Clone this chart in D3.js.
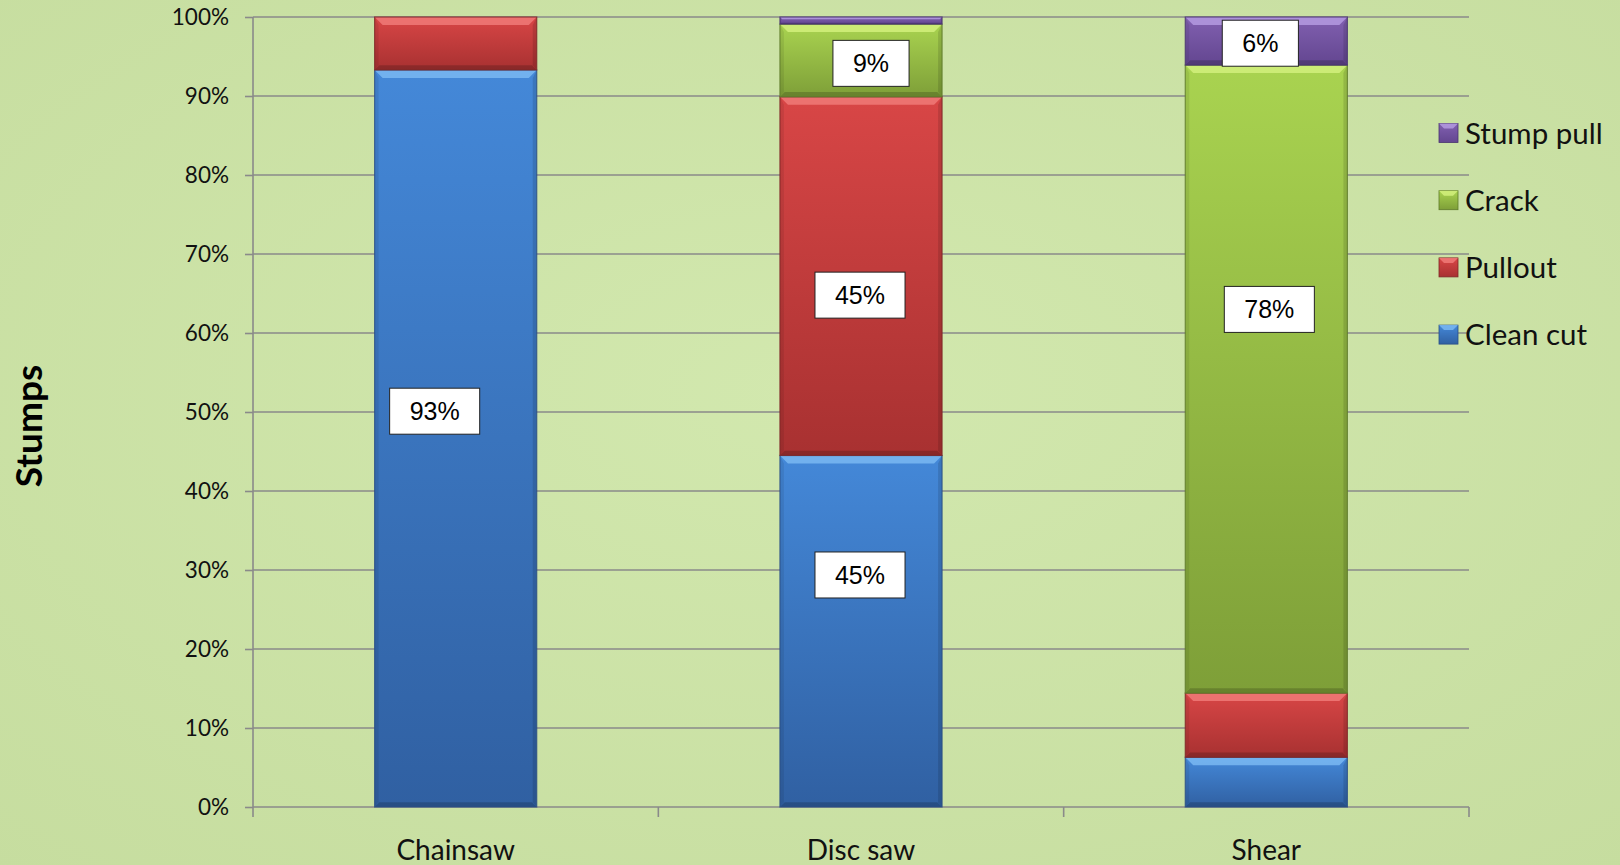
<!DOCTYPE html>
<html>
<head>
<meta charset="utf-8">
<script src="https://cdn.jsdelivr.net/npm/d3@7"></script>
<style>
  html, body { margin: 0; padding: 0; background: #cde3a6; }
  svg { display: block; }
</style>
</head>
<body>
<svg id="chart" width="1620" height="865"></svg>
<script>
// Stump damage by felling head type (share of stumps)
const categories = ["Chainsaw", "Disc saw", "Shear"];
const seriesNames = ["Clean cut", "Pullout", "Crack", "Stump pull"];
const cleanCut  = [93.3, 44.5, 6.2];
const pullout   = [6.7, 45.4, 8.0];
const crack     = [0, 9.2, 78.3];
const stumpPull = [0, 0.9, 6];
const yTickValues = [0, 0.1, 0.2, 0.3, 0.4, 0.5, 0.6, 0.7, 0.8, 0.9, 1.0];
const yTitle = "Stumps";

// Segments that carry a value box
const labelledSegments = [
  ["Chainsaw", "Clean cut"],
  ["Disc saw", "Clean cut"],
  ["Disc saw", "Pullout"],
  ["Disc saw", "Crack"],
  ["Shear", "Crack"],
  ["Shear", "Stump pull"]
];

// Placement of each value box inside its segment (fraction of height, x shift)
const labelPlacement = {
  "Chainsaw|Clean cut": { f: 0.537, dx: -21 },
  "Disc saw|Clean cut": { f: 0.66, dx: -1 },
  "Disc saw|Pullout":   { f: 0.447, dx: -1 },
  "Disc saw|Crack":     { f: 0.46, dx: 10 },
  "Shear|Crack":        { f: 0.611, dx: 3 },
  "Shear|Stump pull":   { f: 0.455, dx: -6 }
};

const seriesColors = {
  "Clean cut":  { top: "#4488d8", bottom: "#3060a2", hi: "#7ab8f2", edge: "#2a4f85" },
  "Pullout":    { top: "#d84646", bottom: "#a83131", hi: "#f07a78", edge: "#7e2727" },
  "Crack":      { top: "#a9d350", bottom: "#7e9f38", hi: "#d2f07c", edge: "#5e7a2a" },
  "Stump pull": { top: "#8160b0", bottom: "#634690", hi: "#b49ae0", edge: "#4a3470" }
};

const rows = categories.map((c, i) => ({
  category: c,
  "Clean cut": cleanCut[i],
  "Pullout": pullout[i],
  "Crack": crack[i],
  "Stump pull": stumpPull[i]
}));

const svg = d3.select("#chart");
const W = 1620, H = 865;
const margin = { left: 253, right: 151, top: 17, bottom: 58 };
const plotW = W - margin.left - margin.right;
const plotH = H - margin.top - margin.bottom;

// Background
const defs = svg.append("defs");
const bg = defs.append("radialGradient").attr("id", "bgGrad")
  .attr("cx", "50%").attr("cy", "45%").attr("r", "75%");
bg.append("stop").attr("offset", "0%").attr("stop-color", "#d2e8ae");
bg.append("stop").attr("offset", "100%").attr("stop-color", "#c6dd9f");
svg.append("rect").attr("width", W).attr("height", H).attr("fill", "url(#bgGrad)");

seriesNames.forEach((s, i) => {
  const g = defs.append("linearGradient").attr("id", "grad" + i)
    .attr("x1", 0).attr("y1", 0).attr("x2", 0).attr("y2", 1);
  g.append("stop").attr("offset", "0%").attr("stop-color", seriesColors[s].top);
  g.append("stop").attr("offset", "100%").attr("stop-color", seriesColors[s].bottom);
});

const g = svg.append("g").attr("transform", `translate(${margin.left},${margin.top})`);

const x = d3.scaleBand().domain(categories).range([0, plotW]).paddingInner(0.6).paddingOuter(0.3);
const xBand = d3.scaleBand().domain(categories).range([0, plotW]);
const y = d3.scaleLinear().domain([0, 1]).range([plotH, 0]);

// Gridlines
g.append("g").selectAll("line").data(yTickValues.filter(v => v > 0)).join("line")
  .attr("x1", 0).attr("x2", plotW)
  .attr("y1", d => y(d)).attr("y2", d => y(d))
  .attr("stroke", "#8a8a8a").attr("stroke-width", 1.6);

// Y axis
const yAxis = g.append("g").call(
  d3.axisLeft(y).tickValues(yTickValues).tickFormat(d3.format(".0%")).tickSize(8).tickPadding(16)
);
yAxis.select(".domain").attr("stroke", "#8a8a8a").attr("stroke-width", 1.6)
  .attr("d", `M0,${plotH + 10}V0`);
yAxis.selectAll(".tick line").attr("stroke", "#8a8a8a").attr("stroke-width", 1.6);
yAxis.selectAll(".tick text").attr("font-family", "Lato, 'Open Sans', sans-serif")
  .attr("font-size", 22.5).attr("fill", "#111");

// X axis
const xAxis = g.append("g").attr("transform", `translate(0,${plotH})`)
  .call(d3.axisBottom(xBand).tickSize(0).tickPadding(33));
xAxis.select(".domain").attr("stroke", "#8a8a8a").attr("stroke-width", 1.6)
  .attr("d", `M0,0H${plotW}`);
xAxis.selectAll(".tick text").attr("font-family", "Lato, 'Open Sans', sans-serif")
  .attr("font-size", 28).attr("fill", "#111");
// Category separators
xAxis.append("g").selectAll("line")
  .data(categories.slice(1).map(c => xBand(c)).concat([plotW]))
  .join("line")
  .attr("x1", d => d).attr("x2", d => d).attr("y1", 0).attr("y2", 10)
  .attr("stroke", "#8a8a8a").attr("stroke-width", 1.6);

// Stacked 100% bars
const stack = d3.stack().keys(seriesNames).offset(d3.stackOffsetExpand);
const layers = stack(rows);

const bars = g.append("g");
layers.forEach((layer, si) => {
  const s = layer.key;
  const col = seriesColors[s];
  layer.forEach(d => {
    const x0 = x(d.data.category), w = x.bandwidth();
    const yTop = y(d[1]), yBot = y(d[0]);
    const h = yBot - yTop;
    if (h <= 0) return;
    const seg = bars.append("g");
    seg.append("rect").attr("x", x0).attr("y", yTop).attr("width", w).attr("height", h)
      .attr("fill", `url(#grad${si})`);
    const b = Math.min(8, h / 3);
    // bevel faces
    seg.append("polygon")
      .attr("points", [[x0, yTop], [x0 + w, yTop], [x0 + w - b, yTop + b], [x0 + b, yTop + b]].join(" "))
      .attr("fill", col.hi).attr("opacity", 0.85);
    seg.append("polygon")
      .attr("points", [[x0, yBot], [x0 + b * 0.6, yBot - b * 0.6], [x0 + w - b * 0.6, yBot - b * 0.6], [x0 + w, yBot]].join(" "))
      .attr("fill", "#000").attr("opacity", 0.18);
    seg.append("polygon")
      .attr("points", [[x0, yTop], [x0 + b * 0.5, yTop + b], [x0 + b * 0.5, yBot - b * 0.6], [x0, yBot]].join(" "))
      .attr("fill", "#000").attr("opacity", 0.08);
    seg.append("polygon")
      .attr("points", [[x0 + w, yTop], [x0 + w - b * 0.5, yTop + b], [x0 + w - b * 0.5, yBot - b * 0.6], [x0 + w, yBot]].join(" "))
      .attr("fill", "#000").attr("opacity", 0.12);
    seg.append("rect").attr("x", x0).attr("y", yTop).attr("width", w).attr("height", h)
      .attr("fill", "none").attr("stroke", col.edge).attr("stroke-width", 1.2).attr("opacity", 0.8);
  });
});

// Value boxes
const labelsG = g.append("g");
labelledSegments.forEach(([cat, s]) => {
  const layer = layers.find(l => l.key === s);
  const d = layer[categories.indexOf(cat)];
  const raw = rows[categories.indexOf(cat)][s];
  const pl = labelPlacement[cat + "|" + s];
  const cx = x(cat) + x.bandwidth() / 2 + pl.dx;
  const cy = y(d[0]) + (y(d[1]) - y(d[0])) * pl.f;
  const lg = labelsG.append("g");
  const t = lg.append("text").attr("x", cx).attr("y", cy).attr("dy", "0.36em")
    .attr("text-anchor", "middle")
    .attr("font-family", "'Liberation Sans', Arial, sans-serif").attr("font-size", 25)
    .attr("fill", "#000").text(Math.round(raw) + "%");
  const tw = t.node().getComputedTextLength();
  const bw = tw + 40, bh = 46;
  lg.insert("rect", "text").attr("x", cx - bw / 2).attr("y", cy - bh / 2)
    .attr("width", bw).attr("height", bh)
    .attr("fill", "#fff").attr("stroke", "#222").attr("stroke-width", 1);
});

// Axis title
svg.append("text")
  .attr("transform", `translate(29,${margin.top + plotH / 2 + 14}) rotate(-90)`)
  .attr("text-anchor", "middle").attr("dy", "0.36em")
  .attr("font-family", "Lato, 'Open Sans', sans-serif").attr("font-weight", 700)
  .attr("font-size", 37).attr("fill", "#000").text(yTitle);

// Legend (top series first)
const legend = svg.append("g").attr("transform", "translate(1439,133)");
seriesNames.slice().reverse().forEach((s, i) => {
  const col = seriesColors[s];
  const si = seriesNames.indexOf(s);
  const item = legend.append("g").attr("transform", `translate(0,${i * 67.2})`);
  const sz = 19;
  item.append("rect").attr("x", 0).attr("y", -sz / 2).attr("width", sz).attr("height", sz)
    .attr("fill", `url(#grad${si})`).attr("stroke", col.edge).attr("stroke-width", 0.8);
  item.append("polygon")
    .attr("points", [[0, -sz / 2], [sz, -sz / 2], [sz - 5, -sz / 2 + 5], [5, -sz / 2 + 5]].join(" "))
    .attr("fill", col.hi).attr("opacity", 0.85);
  item.append("text").attr("x", 26).attr("y", 0).attr("dy", "0.36em")
    .attr("font-family", "Lato, 'Open Sans', sans-serif").attr("font-size", 29.5)
    .attr("fill", "#111").text(s);
});
</script>
</body>
</html>
